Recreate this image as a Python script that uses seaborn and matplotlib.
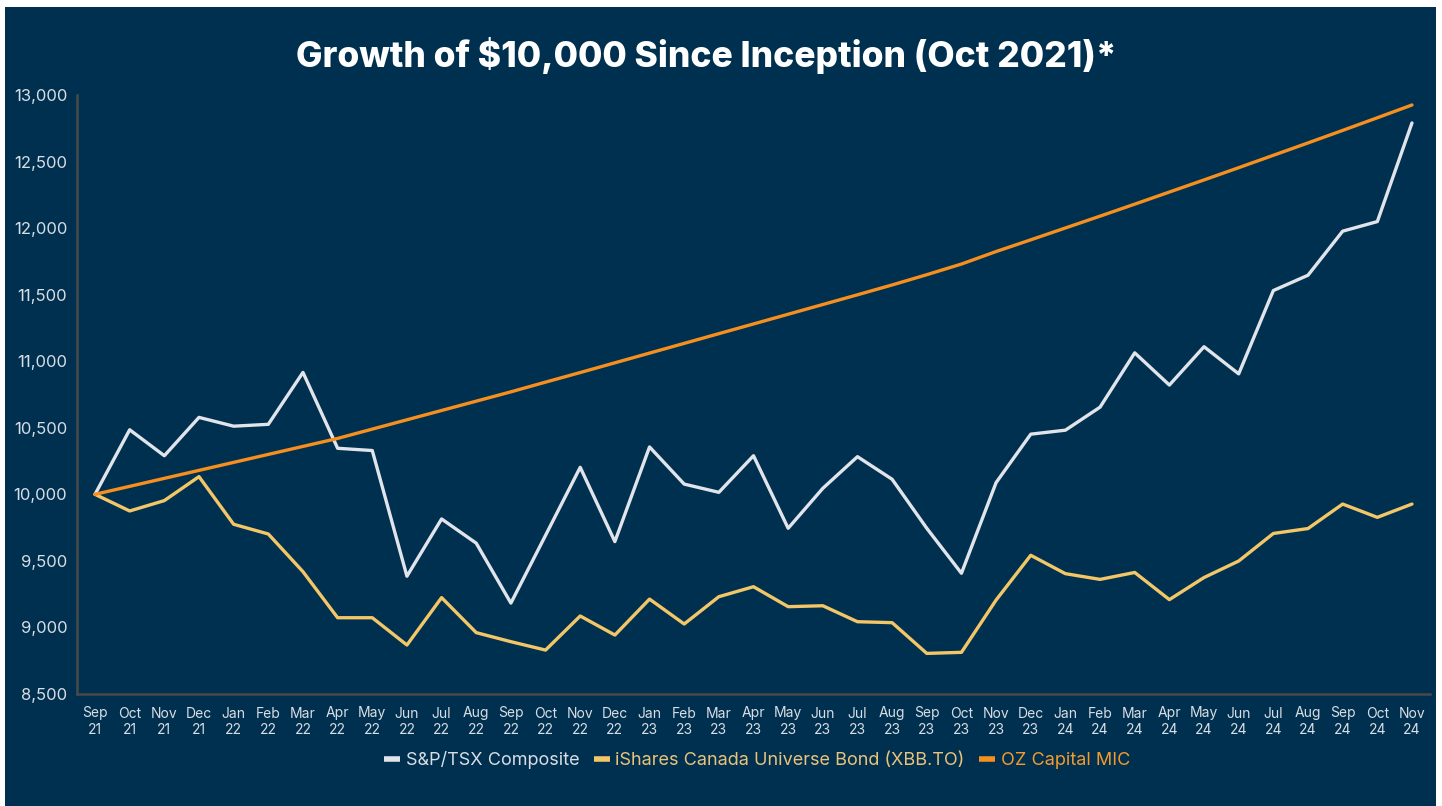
import matplotlib
matplotlib.use("Agg")
import matplotlib.pyplot as plt
from matplotlib.patches import Rectangle
from matplotlib.lines import Line2D
import seaborn as sns
import pandas as pd

month_labels = ["Sep\n21", "Oct\n21", "Nov\n21", "Dec\n21", "Jan\n22", "Feb\n22", "Mar\n22",
                "Apr\n22", "May\n22", "Jun\n22", "Jul\n22", "Aug\n22", "Sep\n22", "Oct\n22",
                "Nov\n22", "Dec\n22", "Jan\n23", "Feb\n23", "Mar\n23", "Apr\n23", "May\n23",
                "Jun\n23", "Jul\n23", "Aug\n23", "Sep\n23", "Oct\n23", "Nov\n23", "Dec\n23",
                "Jan\n24", "Feb\n24", "Mar\n24", "Apr\n24", "May\n24", "Jun\n24", "Jul\n24",
                "Aug\n24", "Sep\n24", "Oct\n24", "Nov\n24"]

tsx = [10000, 10485, 10290, 10578, 10512, 10526, 10916, 10346, 10329, 9385, 9815, 9633, 9183,
       9692, 10203, 9645, 10356, 10077, 10015, 10290, 9745, 10045, 10283, 10113, 9745, 9407,
       10088, 10452, 10482, 10655, 11063, 10821, 11109, 10905, 11531, 11646, 11977, 12049, 12790]

xbb = [10000, 9875, 9953, 10133, 9775, 9702, 9419, 9073, 9073, 8868, 9224, 8961, 8893, 8830,
       9086, 8943, 9213, 9026, 9231, 9306, 9156, 9163, 9043, 9036, 8805, 8813, 9206, 9542,
       9404, 9361, 9413, 9209, 9375, 9499, 9706, 9743, 9927, 9827, 9927]

oz = [10000, 10060, 10120, 10180, 10240, 10300, 10360, 10420, 10490, 10560, 10630, 10700, 10770,
      10843, 10915, 10988, 11061, 11134, 11207, 11280, 11353, 11426, 11499, 11573, 11650, 11730,
      11824, 11912, 12001, 12090, 12180, 12271, 12362, 12454, 12547, 12640, 12734, 12829, 12925]

series_names = ["S&P/TSX Composite", "iShares Canada Universe Bond (XBB.TO)", "OZ Capital MIC"]
series_colors = ["#E1E4EA", "#F3C667", "#F78F1E"]
legend_text_colors = ["#D9DDE4", "#EBC27A", "#F39A2E"]

y_ticks = [8500, 9000, 9500, 10000, 10500, 11000, 11500, 12000, 12500, 13000]

BG = "#00304F"

rows = []
for name, vals in zip(series_names, [tsx, xbb, oz]):
    for i, v in enumerate(vals):
        rows.append({"idx": i, "value": v, "series": name})
df = pd.DataFrame(rows)

sns.set_style("white")
plt.rcParams["font.family"] = ["Inter", "DejaVu Sans"]

fig = plt.figure(figsize=(14.42, 8.06), dpi=100)
fig.patch.set_facecolor("white")
bg_rect = Rectangle((5 / 1442, 0), (1436 - 5) / 1442, (806 - 7) / 806,
                    transform=fig.transFigure, facecolor=BG, edgecolor="none", zorder=-10)
fig.add_artist(bg_rect)

ax = fig.add_axes([77 / 1442, 112 / 806, (1430 - 77) / 1442, (694 - 95) / 806])
ax.set_zorder(1)
ax.set_facecolor(BG)

sns.lineplot(data=df, x="idx", y="value", hue="series", hue_order=series_names,
             palette=dict(zip(series_names, series_colors)), linewidth=2.4, ax=ax,
             legend=False)

ax.set_xlim(-0.52, 38.52)
ax.set_ylim(8500, 13000)
ax.set_xticks(range(len(month_labels)))
ax.set_xticklabels(month_labels, fontsize=10, color="#D9DDE4", linespacing=1.2)
ax.set_yticks(y_ticks)
ax.set_yticklabels([f"{v:,}" for v in y_ticks], fontsize=12, color="#D9DDE4")
ax.tick_params(axis="x", length=3, width=1.2, color="#555555", pad=6)
ax.tick_params(axis="y", length=3, width=1.2, color="#555555", pad=4)
ax.set_xlabel("")
ax.set_ylabel("")
for side in ["top", "right"]:
    ax.spines[side].set_visible(False)
for side in ["left", "bottom"]:
    ax.spines[side].set_color("#4A4A4A")
    ax.spines[side].set_linewidth(1.8)

fig.text(706 / 1442, 1 - 55 / 806, "Growth of $10,000 Since Inception (Oct 2021)*",
         ha="center", va="center", fontsize=25.5, fontweight="heavy", color="white")

handles = [Line2D([0], [0], color=c, linewidth=4, solid_capstyle="butt") for c in series_colors]
leg = fig.legend(handles, series_names, loc="center", bbox_to_anchor=(757 / 1442, 1 - 760 / 806),
                 ncol=3, frameon=False, fontsize=13, handlelength=0.9, handletextpad=0.3,
                 columnspacing=0.8)
for t, c in zip(leg.get_texts(), legend_text_colors):
    t.set_color(c)

fig.savefig("out.png", dpi=100, facecolor=fig.get_facecolor())
